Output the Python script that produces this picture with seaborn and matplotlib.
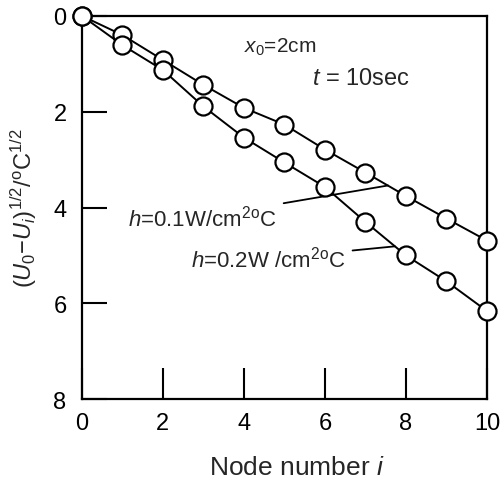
import seaborn as sns
import numpy as np
import pandas as pd
import matplotlib.pyplot as plt

# data
node = [0, 1, 2, 3, 4, 5, 6, 7, 8, 9, 10]
h01 = [0.0, 0.40, 0.92, 1.44, 1.92, 2.27, 2.79, 3.27, 3.76, 4.23, 4.69]
h02 = [0.0, 0.61, 1.13, 1.89, 2.54, 3.06, 3.57, 4.30, 5.00, 5.54, 6.16]
series_labels = ["h=0.1", "h=0.2"]

df = pd.DataFrame({
    "node": node * 2,
    "value": h01 + h02,
    "series": [series_labels[0]] * len(node) + [series_labels[1]] * len(node),
})

sns.set_style("ticks")
plt.rcParams['font.family'] = ['Liberation Sans', 'DejaVu Sans']
plt.rcParams['mathtext.fontset'] = 'custom'
plt.rcParams['mathtext.rm'] = 'Liberation Sans'
plt.rcParams['mathtext.it'] = 'Liberation Sans:italic'
plt.rcParams['mathtext.bf'] = 'Liberation Sans:bold'

fig = plt.figure(figsize=(5.02, 4.81), dpi=100)
ax = fig.add_axes([0.163, 0.168, 0.807, 0.797])

sns.lineplot(data=df, x="node", y="value", hue="series",
             palette=["black", "black"], marker="o", markersize=13,
             markerfacecolor="white", markeredgecolor="black",
             markeredgewidth=1.6, linewidth=1.4, legend=False, ax=ax)
for ln in ax.lines:
    ln.set_clip_on(False)
    ln.set_zorder(5)

ax.set_xlim(0, 10)
ax.set_ylim(8, 0)
ax.set_xticks([0, 2, 4, 6, 8, 10])
ax.set_yticks([0, 2, 4, 6, 8])
ax.tick_params(axis="both", direction="in", width=1.5, labelsize=17,
               color="black", labelcolor="black")
ax.tick_params(axis="y", length=18, pad=11)
ax.tick_params(axis="x", length=22, pad=9)
for sp in ax.spines.values():
    sp.set_visible(True)
    sp.set_linewidth(1.6)
    sp.set_color("black")

ax.set_xlabel(r"Node number $i$", fontsize=19)
ax.xaxis.set_label_coords(0.53, -0.145)
ax.set_ylabel(r"$(U_0\mathrm{-}U_i)^{1/2}/^{\mathrm{o}}\mathrm{C}^{1/2}$",
              fontsize=17, labelpad=10)

ax.text(4.9, 0.63, r"$x_0$=2cm", fontsize=15, ha="center", va="center")
ax.text(6.9, 1.3, r"$t$ = 10sec", fontsize=17, ha="center", va="center")

ax.annotate(r"$h$=0.1W/cm$^{\mathrm{2o}}$C", xy=(7.56, 3.54), xytext=(4.8, 4.2),
            fontsize=16, ha="right", va="center",
            arrowprops=dict(arrowstyle="-", color="black", lw=1.3,
                            shrinkA=3, shrinkB=0))
ax.annotate(r"$h$=0.2W /cm$^{\mathrm{2o}}$C", xy=(7.73, 4.81), xytext=(6.5, 5.07),
            fontsize=16, ha="right", va="center",
            arrowprops=dict(arrowstyle="-", color="black", lw=1.3,
                            shrinkA=3, shrinkB=0))

plt.savefig("out.png", dpi=100)
